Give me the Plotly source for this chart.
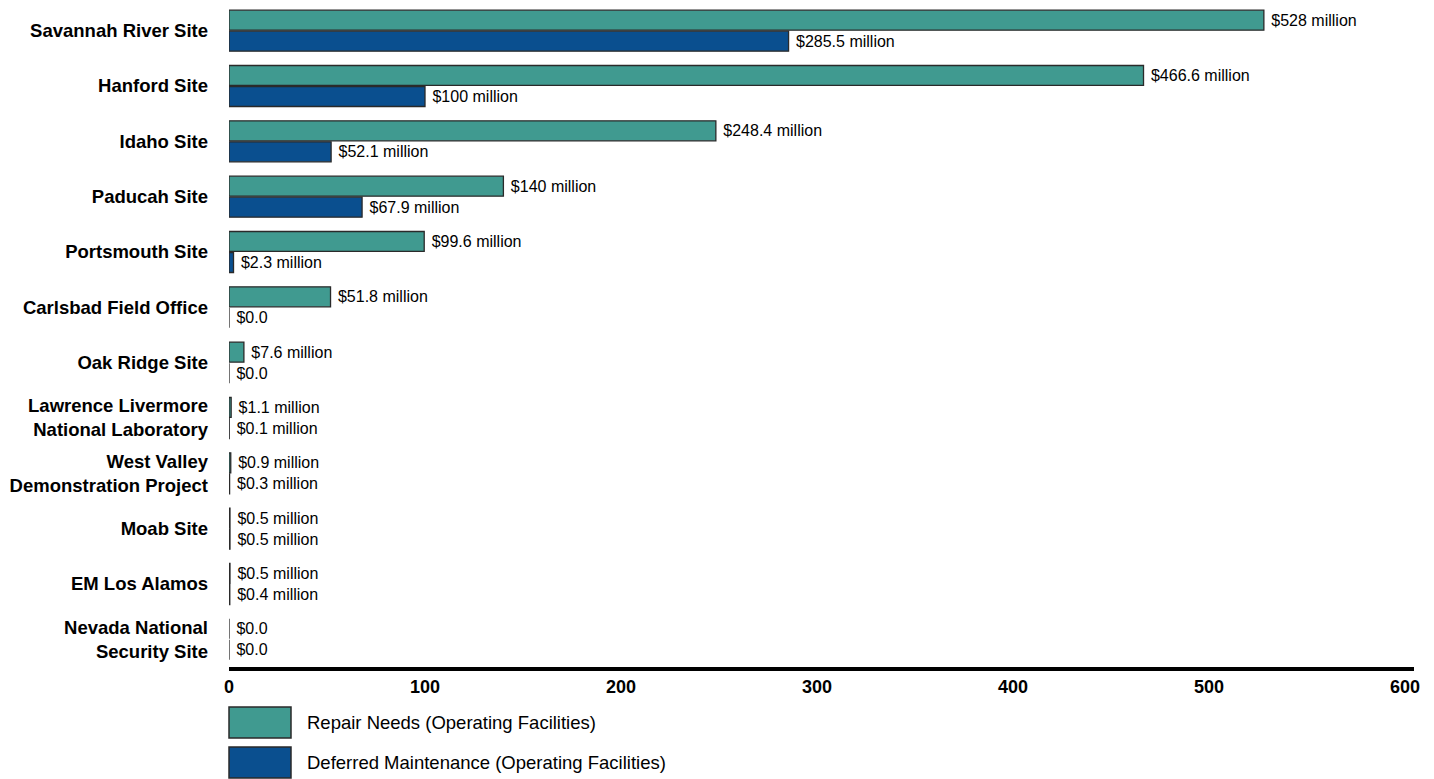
import plotly.graph_objects as go

sites = [
    "Savannah River Site",
    "Hanford Site",
    "Idaho Site",
    "Paducah Site",
    "Portsmouth Site",
    "Carlsbad Field Office",
    "Oak Ridge Site",
    "Lawrence Livermore<br>National Laboratory",
    "West Valley<br>Demonstration Project",
    "Moab Site",
    "EM Los Alamos",
    "Nevada National<br>Security Site",
]
repair_needs = [528, 466.6, 248.4, 140, 99.6, 51.8, 7.6, 1.1, 0.9, 0.5, 0.5, 0.0]
deferred_maintenance = [285.5, 100, 52.1, 67.9, 2.3, 0.0, 0.0, 0.1, 0.3, 0.5, 0.4, 0.0]
series_names = ["Repair Needs (Operating Facilities)", "Deferred Maintenance (Operating Facilities)"]
x_ticks = [0, 100, 200, 300, 400, 500, 600]

TEAL = "#409A90"
BLUE = "#0A4F8F"
OUTLINE = "#2a2a2a"
FONT = "Liberation Sans, Arial, sans-serif"


def label(v):
    return "\u00a0$0.0" if v == 0 else f"\u00a0${v:g} million"


fig = go.Figure()
for name, vals, col in [(series_names[0], repair_needs, TEAL), (series_names[1], deferred_maintenance, BLUE)]:
    fig.add_trace(go.Bar(
        name=name,
        y=sites,
        x=vals,
        orientation="h",
        marker=dict(color=col, line=dict(color=OUTLINE, width=1.3)),
        text=[label(v) for v in vals],
        textposition="outside",
        textfont=dict(family=FONT, size=16, color="#000000"),
        cliponaxis=False,
        showlegend=False,
    ))

fig.update_layout(
    width=1434,
    height=779,
    margin=dict(l=229, r=20, t=3, b=112),
    paper_bgcolor="white",
    plot_bgcolor="white",
    barmode="group",
    bargap=0.24,
    bargroupgap=0.05,
    font=dict(family=FONT, color="#000000"),
    xaxis=dict(
        range=[0, 604.6],
        tickvals=x_ticks,
        ticktext=[str(t) for t in x_ticks],
        showgrid=False,
        zeroline=False,
        showline=True,
        linecolor="#000000",
        linewidth=4,
        ticks="",
        tickfont=dict(family=FONT, size=18, color="#000000", weight="bold"),
    ),
    yaxis=dict(
        autorange="reversed",
        showgrid=False,
        zeroline=False,
        showline=False,
        ticks="",
        ticklabelstandoff=20,
        tickfont=dict(family=FONT, size=18.5, color="#000000", weight="bold"),
    ),
)

# Legend drawn as swatches + labels below the axis
plot_h = 779 - 3 - 112
def py(p):
    return (779 - 112 - p) / plot_h

legend_rows = [(series_names[0], TEAL, 707, 738), (series_names[1], BLUE, 747, 778)]
for name, col, top, bot in legend_rows:
    fig.add_shape(type="rect", xref="paper", yref="paper",
                  x0=0, x1=62 / 1185, y0=py(bot), y1=py(top),
                  fillcolor=col, line=dict(color=OUTLINE, width=1.5))
    fig.add_annotation(xref="paper", yref="paper", x=76 / 1185, y=py((top + bot) / 2),
                       xanchor="left", yanchor="middle", showarrow=False,
                       text=name, font=dict(family=FONT, size=18.5, color="#000000"))

fig.write_html("out.html")
